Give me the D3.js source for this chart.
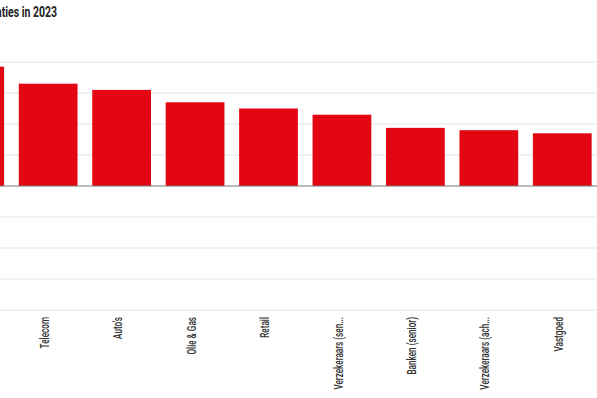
<!DOCTYPE html>
<html>
<head>
<meta charset="utf-8">
<script src="https://cdn.jsdelivr.net/npm/d3@7"></script>
<style>
    body { margin: 0; background: #fff; }
    svg { display: block; }
    .label { font-family: Roboto, "Noto Sans", sans-serif; }
</style>
</head>
<body>
<div id="chart"></div>
<script>
// sectors (first one falls outside the visible crop)
const sectors = ["Nutsbedrijven", "Telecom", "Auto's", "Olie & Gas", "Retail",
    "Verzekeraars (sen...", "Banken (senior)", "Verzekeraars (ach...", "Vastgoed"];
const values = [7.7, 6.6, 6.2, 5.4, 5.0, 4.6, 3.75, 3.6, 3.4];
const yTicks = [-8, -6, -4, -2, 0, 2, 4, 6, 8];

const width = 597, height = 398;

const svg = d3.select("#chart")
    .append("svg")
    .attr("width", width)
    .attr("height", height);

const x = d3.scaleBand()
    .domain(sectors)
    .range([-62, 599])
    .paddingInner(0.2)
    .paddingOuter(0.1);

const y = d3.scaleLinear()
    .domain([-8, 8])
    .range([310, 62]);

// gridlines
svg.append("g")
    .selectAll("line")
    .data(yTicks.filter(t => t !== 0))
    .enter().append("line")
    .attr("x1", 0)
    .attr("x2", width)
    .attr("y1", d => y(d))
    .attr("y2", d => y(d))
    .attr("stroke", "#e4e4e4")
    .attr("stroke-width", 1.2);

// bars
svg.append("g")
    .selectAll("rect")
    .data(values)
    .enter().append("rect")
    .attr("x", (d, i) => x(sectors[i]))
    .attr("width", x.bandwidth())
    .attr("y", d => y(d))
    .attr("height", d => y(0) - y(d))
    .attr("fill", "#e30613");

// zero line
svg.append("line")
    .attr("x1", 0)
    .attr("x2", width)
    .attr("y1", y(0))
    .attr("y2", y(0))
    .attr("stroke", "#777")
    .attr("stroke-width", 1);

// category labels, squeezed to mimic the condensed face
const xAxis = svg.append("g")
    .attr("class", "label")
    .attr("transform", `translate(0,${y(-8)})`)
    .call(d3.axisBottom(x).tickSize(0));

xAxis.select(".domain").remove();
xAxis.selectAll("text")
    .attr("transform", "translate(0,7) rotate(-90) scale(0.68,1)")
    .attr("text-anchor", "end")
    .attr("x", 0)
    .attr("y", 0)
    .attr("dy", "0.05em")
    .attr("font-size", 12)
    .attr("font-weight", 500)
    .attr("fill", "#333");

// title (left part cropped off)
svg.append("text")
    .attr("class", "label")
    .attr("transform", "translate(57,17) scale(0.75,1)")
    .attr("text-anchor", "end")
    .attr("font-size", 14)
    .attr("font-weight", "bold")
    .attr("fill", "#222")
    .text("Rendement obligaties in 2023");
</script>
</body>
</html>
